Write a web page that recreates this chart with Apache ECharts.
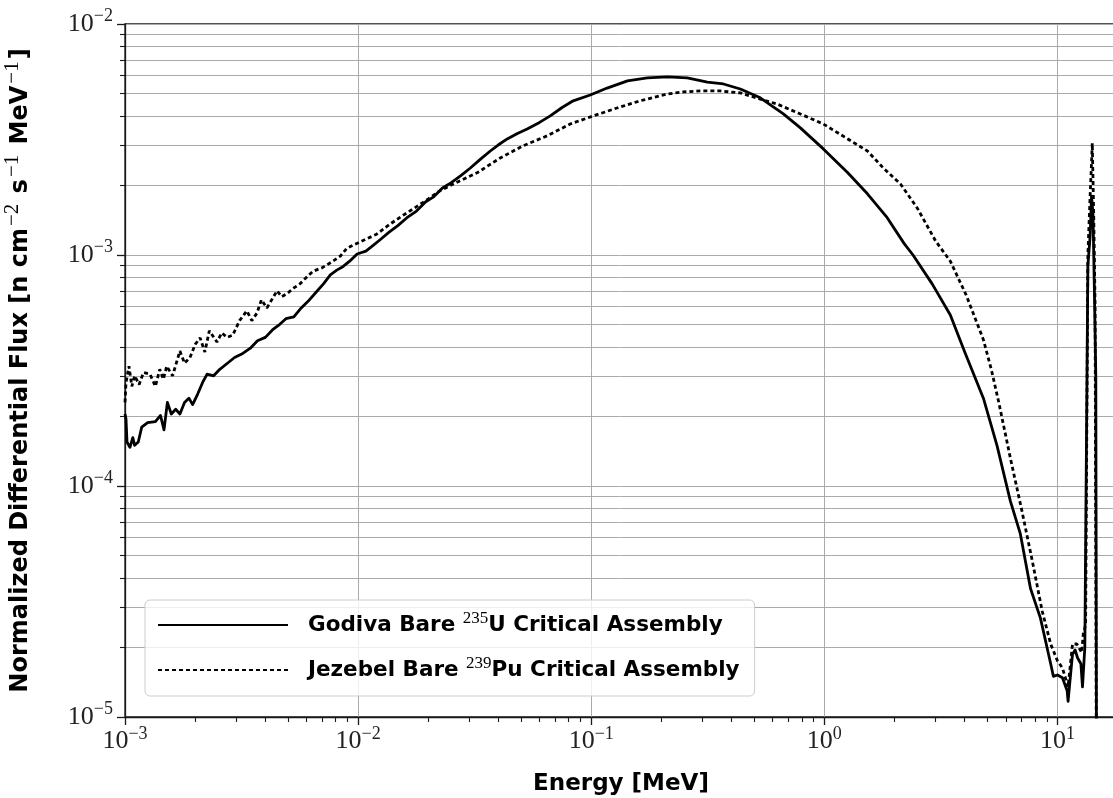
<!DOCTYPE html>
<html>
<head>
<meta charset="utf-8">
<script src="https://cdn.jsdelivr.net/npm/echarts@6/dist/echarts.min.js"></script>
<style>
html,body{margin:0;padding:0;background:#fff;}
#chart{width:1113px;height:798px;}
</style>
</head>
<body>
<div id="chart"></div>
<script>
// ---- Data ----
const godivaEnergy = [
  1.00e-3,1.01e-3,1.02e-3,1.05e-3,1.08e-3,1.10e-3,1.14e-3,1.18e-3,1.25e-3,1.35e-3,
  1.42e-3,1.47e-3,1.52e-3,1.58e-3,1.65e-3,1.72e-3,1.80e-3,1.88e-3,1.95e-3,2.05e-3,
  2.15e-3,2.25e-3,2.40e-3,2.55e-3,2.75e-3,2.95e-3,3.2e-3,3.45e-3,3.7e-3,4.0e-3,
  4.3e-3,4.6e-3,4.9e-3,5.3e-3,5.7e-3,6.1e-3,6.6e-3,7.1e-3,7.6e-3,8.1e-3,
  8.6e-3,9.2e-3,9.9e-3,1.08e-2,1.16e-2,1.25e-2,1.35e-2,1.48e-2,1.62e-2,1.78e-2,
  1.95e-2,2.10e-2,2.30e-2,2.50e-2,2.75e-2,3.03e-2,3.35e-2,3.69e-2,4.0e-2,4.36e-2,
  4.8e-2,5.31e-2,6.0e-2,6.67e-2,7.5e-2,8.37e-2,9.9e-2,0.117,0.143,0.174,
  0.212,0.258,0.315,0.369,0.436,0.531,0.667,0.789,0.99,1.26,
  1.53,1.86,2.2,2.4,2.9,3.47,4.0,4.81,5.5,6.28,
  6.93,7.66,8.45,9.35,9.6,10.0,10.5,11.0,11.1,11.25,
  11.6,11.9,12.2,12.6,12.8,13.1,13.3,13.5,13.8,14.0,
  14.2,14.4,14.6,14.75
];
const godivaFlux = [
  2.05e-4,1.95e-4,1.55e-4,1.47e-4,1.62e-4,1.50e-4,1.55e-4,1.80e-4,1.88e-4,1.90e-4,
  2.02e-4,1.75e-4,2.30e-4,2.05e-4,2.15e-4,2.05e-4,2.30e-4,2.40e-4,2.25e-4,2.50e-4,
  2.80e-4,3.05e-4,3.00e-4,3.20e-4,3.40e-4,3.60e-4,3.75e-4,3.95e-4,4.25e-4,4.40e-4,
  4.75e-4,5.00e-4,5.30e-4,5.40e-4,5.90e-4,6.30e-4,6.90e-4,7.50e-4,8.20e-4,8.60e-4,
  8.90e-4,9.40e-4,1.01e-3,1.04e-3,1.10e-3,1.17e-3,1.25e-3,1.34e-3,1.45e-3,1.55e-3,
  1.70e-3,1.78e-3,1.95e-3,2.05e-3,2.20e-3,2.38e-3,2.60e-3,2.82e-3,3.00e-3,3.18e-3,
  3.35e-3,3.51e-3,3.75e-3,4.00e-3,4.35e-3,4.65e-3,4.93e-3,5.28e-3,5.67e-3,5.84e-3,
  5.90e-3,5.84e-3,5.60e-3,5.50e-3,5.23e-3,4.79e-3,4.08e-3,3.55e-3,2.88e-3,2.27e-3,
  1.84e-3,1.45e-3,1.12e-3,1.00e-3,7.5e-4,5.5e-4,3.8e-4,2.4e-4,1.5e-4,8.6e-5,
  6.2e-5,3.6e-5,2.68e-5,1.7e-5,1.5e-5,1.52e-5,1.48e-5,1.3e-5,1.17e-5,1.35e-5,
  1.87e-5,1.95e-5,1.8e-5,1.7e-5,1.35e-5,2.0e-5,2.0e-5,9.0e-4,1.2e-3,1.8e-3,
  1.5e-3,7.0e-4,3.0e-4,1.0e-6
];
const jezebelEnergy = [
  1.00e-3,1.01e-3,1.04e-3,1.07e-3,1.10e-3,1.15e-3,1.20e-3,1.28e-3,1.35e-3,1.41e-3,
  1.46e-3,1.51e-3,1.60e-3,1.72e-3,1.80e-3,1.90e-3,2.00e-3,2.10e-3,2.20e-3,2.30e-3,
  2.48e-3,2.60e-3,2.74e-3,2.90e-3,3.10e-3,3.33e-3,3.50e-3,3.68e-3,3.85e-3,4.06e-3,
  4.30e-3,4.49e-3,4.70e-3,4.95e-3,5.30e-3,5.63e-3,6.00e-3,6.40e-3,7.00e-3,7.80e-3,
  8.40e-3,8.95e-3,1.02e-2,1.10e-2,1.20e-2,1.37e-2,1.55e-2,1.75e-2,2.00e-2,2.25e-2,
  2.56e-2,3.24e-2,4.07e-2,5.10e-2,6.47e-2,8.12e-2,0.102,0.129,0.162,0.212,
  0.248,0.294,0.358,0.436,0.531,0.628,0.789,0.99,1.26,1.53,
  1.79,2.12,2.5,3.0,3.47,4.06,4.81,5.2,5.6,6.3,7.0,
  7.8,8.6,9.35,10.0,10.5,11.1,11.6,12.1,12.7,12.9,
  13.2,13.5,13.8,14.0,14.1,14.3,14.5,14.75
];
const jezebelFlux = [
  2.3e-4,2.8e-4,3.3e-4,2.7e-4,3.0e-4,2.75e-4,3.1e-4,3.05e-4,2.7e-4,3.2e-4,
  2.9e-4,3.3e-4,3.0e-4,3.84e-4,3.4e-4,3.6e-4,4.1e-4,4.38e-4,3.8e-4,4.7e-4,
  4.2e-4,4.6e-4,4.4e-4,4.5e-4,5.2e-4,5.73e-4,5.2e-4,5.6e-4,6.4e-4,5.9e-4,
  6.5e-4,7.0e-4,6.6e-4,6.8e-4,7.2e-4,7.5e-4,8.0e-4,8.5e-4,8.8e-4,9.4e-4,
  9.9e-4,1.07e-3,1.14e-3,1.18e-3,1.23e-3,1.36e-3,1.48e-3,1.60e-3,1.75e-3,1.90e-3,
  2.03e-3,2.27e-3,2.63e-3,2.97e-3,3.28e-3,3.69e-3,4.00e-3,4.33e-3,4.65e-3,4.98e-3,
  5.08e-3,5.13e-3,5.13e-3,5.03e-3,4.73e-3,4.50e-3,4.08e-3,3.69e-3,3.18e-3,2.82e-3,
  2.38e-3,2.03e-3,1.60e-3,1.15e-3,9.4e-4,6.7e-4,4.3e-4,3.2e-4,2.3e-4,1.3e-4,8.0e-5,
  4.73e-5,2.87e-5,2.07e-5,1.75e-5,1.63e-5,1.35e-5,2.07e-5,2.07e-5,1.9e-5,2.29e-5,
  2.5e-5,1.0e-3,1.8e-3,2.5e-3,3.05e-3,1.5e-3,6.0e-4,1.0e-6
];
const seriesNames = [
  'Godiva Bare 235U Critical Assembly',
  'Jezebel Bare 239Pu Critical Assembly'
];
const xMajorTicks = [1e-3, 1e-2, 1e-1, 1, 10];
const yMajorTicks = [1e-5, 1e-4, 1e-3, 1e-2];
const xMinorTicks = [];
[1e-3, 1e-2, 1e-1, 1].forEach(d => { for (let k = 2; k <= 9; k++) xMinorTicks.push(+(k * d).toPrecision(3)); });
const yMinorTicks = [];
[1e-5, 1e-4, 1e-3].forEach(d => { for (let k = 2; k <= 9; k++) yMinorTicks.push(+(k * d).toPrecision(3)); });
const xTitle = 'Energy [MeV]';
const yTitle = 'Normalized Differential Flux [n cm{sup|−2} s{sup|−1} MeV{sup|−1}]';

// ---- Chart ----
const X_MIN = 1e-3, X_MAX = 18, Y_MIN = 1e-5, Y_MAX = 1e-2;
const SERIF = '"Liberation Serif", "DejaVu Serif", serif';
const SANS = '"DejaVu Sans", sans-serif';
const AXIS_COLOR = '#1a1a1a';
const GRID_COLOR = '#aaaaaa';

function powLabel(v) {
  const e = Math.round(Math.log10(v));
  return '{b|10}{s|' + (e < 0 ? '−' : '') + Math.abs(e) + '}';
}
const labelRich = {
  b: { fontFamily: SERIF, fontSize: 26, color: '#222' },
  s: { fontFamily: SERIF, fontSize: 18, color: '#222', padding: [0, 0, 15, 0] }
};
const legendRich = { sup: { fontFamily: SERIF, fontSize: 17, fontWeight: 'normal', color: '#000', padding: [0, 0, 13, 0] } };
const titleRich = { sup: { fontFamily: SERIF, fontSize: 21, fontWeight: 'normal', color: '#000', padding: [0, 2, 16, 2] } };

const pairs = (xs, ys) => xs.map((x, i) => [x, ys[i]]);

const chart = echarts.init(document.getElementById('chart'), null, { renderer: 'canvas' });
chart.setOption({
  animation: false,
  backgroundColor: '#ffffff',
  grid: {
    left: 125, top: 24, right: -4, bottom: 81,
    show: true, borderColor: AXIS_COLOR, borderWidth: 1.3,
    backgroundColor: 'transparent',
    containLabel: false, outerBoundsMode: 'none'
  },
  legend: {
    orient: 'vertical',
    left: 145, top: 600,
    padding: [10, 15, 15, 12],
    itemWidth: 130, itemHeight: 14,
    itemGap: 19,
    backgroundColor: 'rgba(255,255,255,0.8)',
    borderColor: '#cccccc', borderWidth: 1, borderRadius: 5,
    data: seriesNames,
    itemStyle: { opacity: 0 },
    formatter: n => n.replace(/(\d{3})(U|Pu)/, '{sup|$1}$2'),
    textStyle: {
      fontFamily: SANS, fontWeight: 'bold', fontSize: 21.5, color: '#000',
      padding: [0, 0, 0, 15],
      rich: legendRich
    }
  },
  xAxis: [
    {
      type: 'log', logBase: 10, min: X_MIN, max: X_MAX, position: 'bottom',
      name: xTitle, nameLocation: 'middle', nameGap: 56,
      nameTextStyle: { fontFamily: SANS, fontWeight: 'bold', fontSize: 23, color: '#000' },
      axisLine: { show: true, onZero: false, lineStyle: { color: AXIS_COLOR, width: 1.3 } },
      axisTick: { show: true, inside: false, length: 8, customValues: xMajorTicks, lineStyle: { color: AXIS_COLOR, width: 1.3 } },
      axisLabel: { show: true, margin: 8, customValues: xMajorTicks, formatter: powLabel, rich: labelRich },
      splitLine: { show: true, lineStyle: { color: GRID_COLOR, width: 1 } },
      minorTick: { show: false }, minorSplitLine: { show: false }
    },
    {
      type: 'log', logBase: 10, min: X_MIN, max: X_MAX, position: 'bottom', offset: 0,
      axisLine: { show: false, onZero: false },
      axisTick: { show: true, inside: false, length: 5, customValues: xMinorTicks, lineStyle: { color: AXIS_COLOR, width: 1.1 } },
      axisLabel: { show: false },
      splitLine: { show: false }
    }
  ],
  yAxis: [
    {
      type: 'log', logBase: 10, min: Y_MIN, max: Y_MAX, position: 'left',
      name: yTitle, nameLocation: 'middle', nameGap: 86, nameRotate: 90,
      nameTextStyle: { fontFamily: SANS, fontWeight: 'bold', fontSize: 24, color: '#000', rich: titleRich },
      axisLine: { show: true, onZero: false, lineStyle: { color: AXIS_COLOR, width: 1.3 } },
      axisTick: { show: true, inside: false, length: 8, customValues: yMajorTicks, lineStyle: { color: AXIS_COLOR, width: 1.3 } },
      axisLabel: { show: true, margin: 12, customValues: yMajorTicks, formatter: powLabel, rich: labelRich },
      splitLine: { show: true, lineStyle: { color: GRID_COLOR, width: 1 } },
      minorTick: { show: false }, minorSplitLine: { show: false }
    },
    {
      type: 'log', logBase: 10, min: Y_MIN, max: Y_MAX, position: 'left', offset: 0,
      axisLine: { show: false, onZero: false },
      axisTick: { show: true, inside: false, length: 5, customValues: yMinorTicks, lineStyle: { color: AXIS_COLOR, width: 1.1 } },
      axisLabel: { show: false },
      splitLine: { show: true, lineStyle: { color: GRID_COLOR, width: 1 } }
    }
  ],
  series: [
    {
      name: seriesNames[0], type: 'line', xAxisIndex: 0, yAxisIndex: 0,
      data: pairs(godivaEnergy, godivaFlux),
      symbol: 'none', showSymbol: false, clip: true, z: 5,
      lineStyle: { color: '#000', width: 2.8, type: 'solid', join: 'round' },
      itemStyle: { color: '#000' }
    },
    {
      name: seriesNames[1], type: 'line', xAxisIndex: 0, yAxisIndex: 0,
      data: pairs(jezebelEnergy, jezebelFlux),
      symbol: 'none', showSymbol: false, clip: true, z: 5,
      lineStyle: { color: '#000', width: 2.8, type: [4, 3] },
      itemStyle: { color: '#000' }
    }
  ]
});
</script>
</body>
</html>
